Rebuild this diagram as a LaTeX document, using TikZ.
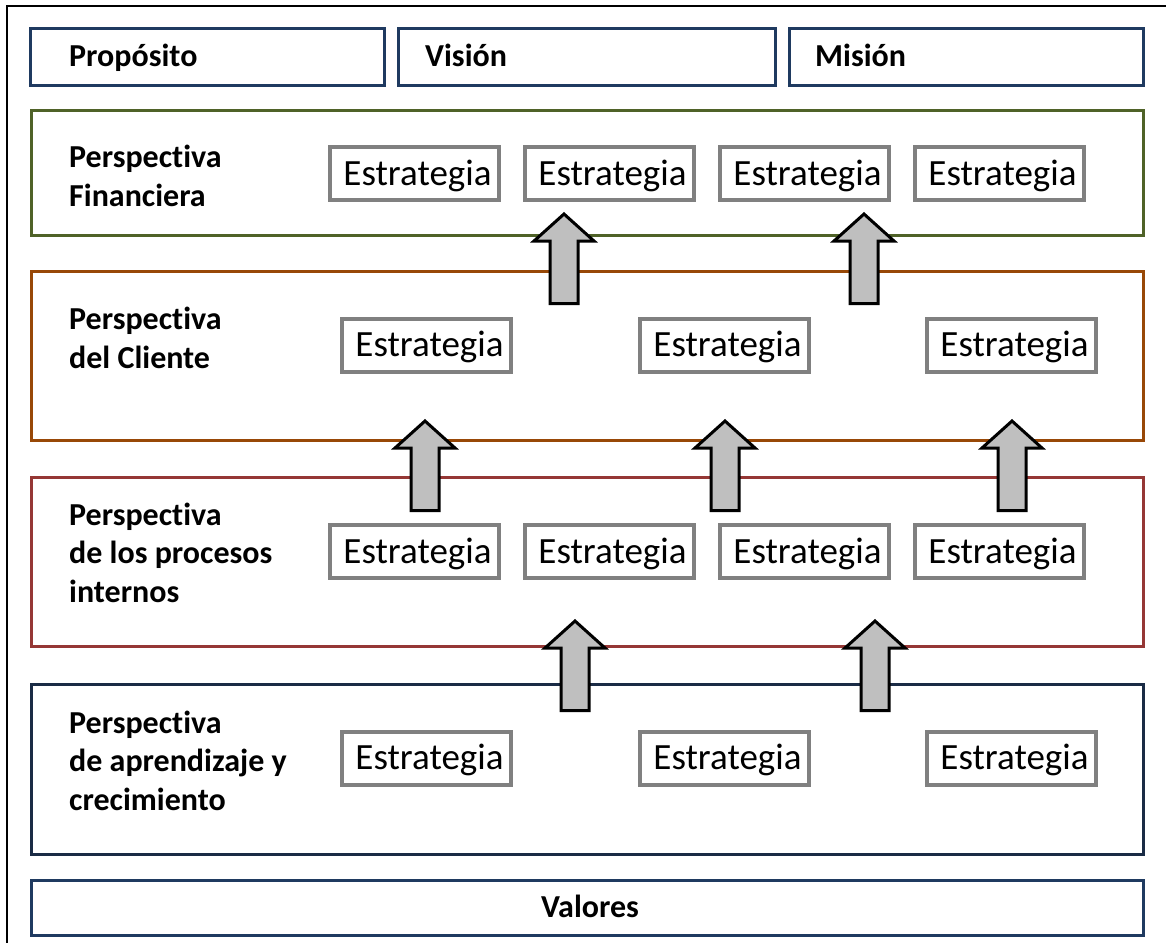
\documentclass[tikz,border=0pt]{standalone}
\usepackage{fontspec}
\setmainfont{Carlito}[Ligatures=NoCommon]
\definecolor{navy}{HTML}{1F3A60}
\definecolor{navydark}{HTML}{1A2B45}
\definecolor{olive}{HTML}{4F6228}
\definecolor{rust}{HTML}{984807}
\definecolor{brick}{HTML}{953735}
\definecolor{stratgray}{HTML}{808080}
\definecolor{arrowfill}{HTML}{BFBFBF}
\begin{document}
\begin{tikzpicture}[x=1pt,y=-1pt,
  headbox/.style={draw=navy, line width=3.5pt, minimum height=57pt, inner sep=0pt},
  panel/.style={line width=3pt, minimum width=1112pt, inner sep=0pt},
  stratbox/.style={draw=stratgray, line width=4pt, minimum width=169pt, minimum height=53pt,
    inner sep=0pt, text height=23pt, text depth=0pt, font=\fontsize{37}{44}\selectfont,
    execute at begin node=\hspace*{6pt}},
  lbl/.style={anchor=base west, align=left, inner sep=0pt,
    font=\fontsize{32}{38.5}\selectfont\bfseries},
  uparrow/.pic={\draw[line width=3pt, fill=arrowfill, line join=miter]
    (-14,0) -- (-14,-62.5) -- (-30,-62.5) -- (0,-89.5) -- (30,-62.5) -- (14,-62.5) -- (14,0) -- cycle;}]
\useasboundingbox (0,0) rectangle (1166,943);

% outer frame (only its top and left edges fall inside the page)
\coordinate (frameTR) at (1166,6);
\coordinate (frameTL) at (7,6);
\coordinate (frameBL) at (7,943);
\draw[line width=1.5pt] (frameTR) -- (frameTL) -- (frameBL);

% header boxes
\node[headbox, minimum width=354pt] (prop) at (207.5,57) {};
\node[headbox, minimum width=377pt] (vis) at (587,57) {};
\node[headbox, minimum width=354pt] (mis) at (966.5,57) {};
\node[lbl] (propT) at (69,66) {Propósito};
\node[lbl] (visT) at (425,66) {Visión};
\node[lbl] (misT) at (815,66) {Misión};

% perspective panels
\node[panel, draw=olive, minimum height=125pt] (fin) at (587.5,173) {};
\node[panel, draw=rust, minimum height=169pt] (cli) at (587.5,356) {};
\node[panel, draw=brick, minimum height=169pt] (pro) at (587.5,562) {};
\node[panel, draw=navydark, minimum height=170pt] (apr) at (587.5,769.5) {};
\node[panel, draw=navy, minimum height=55pt] (val) at (587.5,908) {};

% panel titles (anchored at the baseline of their last line)
\node[lbl] (finT) at (69,206) {Perspectiva\\Financiera};
\node[lbl] (cliT) at (69,368) {Perspectiva\\del Cliente};
\node[lbl] (proT) at (69,602) {Perspectiva\\de los procesos\\internos};
\node[lbl] (aprT) at (69,810) {Perspectiva\\de aprendizaje y\\crecimiento};
\node[lbl, anchor=base] (valT) at (590,917) {Valores};

% strategy boxes
\foreach \x [count=\i] in {414.5,609.5,804.5,999.5} {
  \node[stratbox] (f\i) at (\x,173.5) {Estrategia};
  \node[stratbox] (p\i) at (\x,551.5) {Estrategia};
}
\foreach \x [count=\i] in {426.5,724.5,1011.5} {
  \node[stratbox] (c\i) at (\x,345) {Estrategia};
  \node[stratbox] (a\i) at (\x,758) {Estrategia};
}

% block arrows between perspectives
\pic at (564,303.5) {uparrow};
\pic at (864,303.5) {uparrow};
\pic at (425,510.5) {uparrow};
\pic at (725,510.5) {uparrow};
\pic at (1012,510.5) {uparrow};
\pic at (575,710.5) {uparrow};
\pic at (875,710.5) {uparrow};
\end{tikzpicture}
\end{document}
